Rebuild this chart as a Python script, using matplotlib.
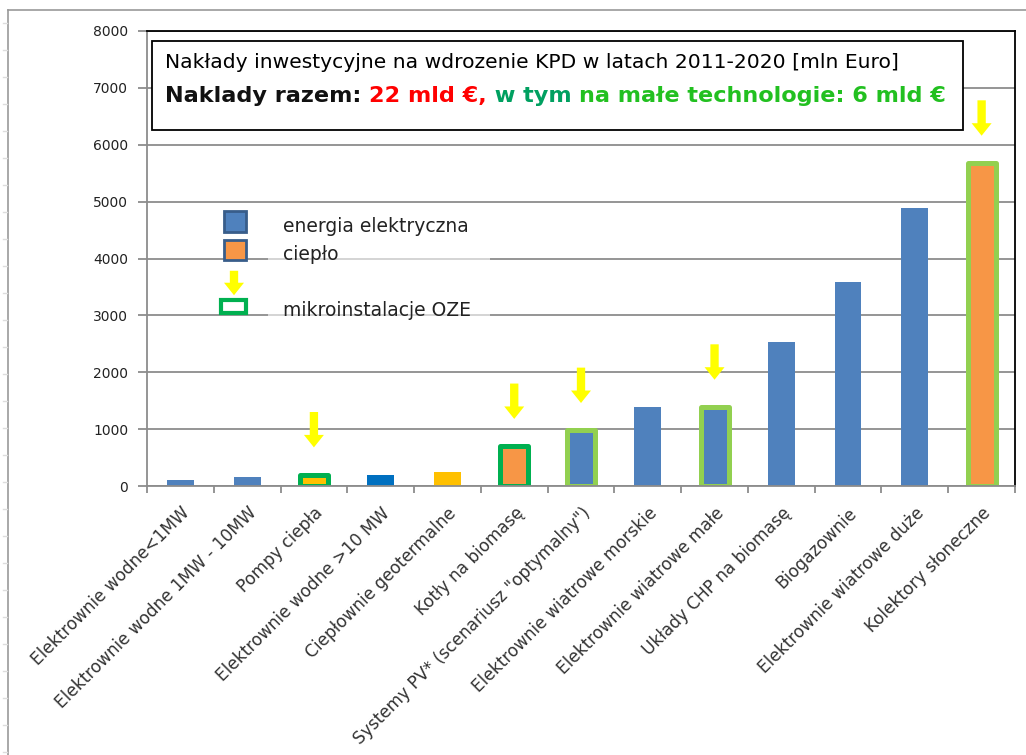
import matplotlib.pyplot as plt
from matplotlib.patches import Rectangle, FancyArrowPatch
from matplotlib.lines import Line2D

plt.rcParams['font.family'] = ['DejaVu Sans']

# Data
categories = [
    "Elektrownie wodne<1MW",
    "Elektrownie wodne 1MW - 10MW",
    "Pompy ciepła",
    "Elektrownie wodne >10 MW",
    "Ciepłownie geotermalne",
    "Kotły na biomasę",
    "Systemy PV* (scenariusz \"optymalny\")",
    "Elektrownie wiatrowe morskie",
    "Elektrownie wiatrowe małe",
    "Układy CHP na biomasę",
    "Biogazownie",
    "Elektrownie wiatrowe duże",
    "Kolektory słoneczne",
]
values = [110, 150, 200, 190, 245, 700, 980, 1385, 1390, 2525, 3580, 4890, 5680]
fill_colors = ["#4F81BD", "#4F81BD", "#FFC000", "#0070C0", "#FFC000", "#F79646",
               "#4F81BD", "#4F81BD", "#4F81BD", "#4F81BD", "#4F81BD", "#4F81BD", "#F79646"]
edge_colors = [None, None, "#00B050", None, None, "#00B050",
               "#92D050", None, "#92D050", None, None, None, "#92D050"]
arrow_bars = [2, 5, 6, 8, 12]
y_ticks = [0, 1000, 2000, 3000, 4000, 5000, 6000, 7000, 8000]

W, H = 1026, 755
fig = plt.figure(figsize=(W / 100, H / 100), dpi=100)
ax = fig.add_axes([147 / W, 1 - 486 / H, (1015 - 147) / W, (486 - 31) / H])


def fx(x):
    return x / W


def fy(y):
    return 1 - y / H


# gridlines
for t in y_ticks:
    ax.axhline(t, color="#8C8C8C", lw=1.3, zorder=0)

# bars
for i, (v, fc, ec) in enumerate(zip(values, fill_colors, edge_colors)):
    if ec is None:
        ax.bar(i, v, width=0.4, color=fc, zorder=2)
    else:
        ax.bar(i, v, width=0.42, color=fc, edgecolor=ec, linewidth=3.6,
               joinstyle="round", zorder=2)

# yellow arrows above micro-installation bars
for i in arrow_bars:
    ax.annotate("", xy=(i, values[i] + 430), xytext=(i, values[i] + 1150),
                arrowprops=dict(arrowstyle="simple,head_width=1.2,head_length=0.75,tail_width=0.5",
                                color="#FFFF00", mutation_scale=12, lw=0),
                zorder=3)

ax.set_xlim(-0.5, len(categories) - 0.5)
ax.set_ylim(0, 8000)
ax.set_yticks(y_ticks)
ax.set_yticklabels([str(t) for t in y_ticks], fontsize=10, color="#222222")
ax.set_xticks(range(len(categories)))
ax.set_xticklabels(categories, rotation=45, ha="right", rotation_mode="anchor",
                   fontsize=12.2, color="#333333")
ax.tick_params(axis="x", length=0, pad=13)
ax.set_xticks([k - 0.5 for k in range(len(categories) + 1)], minor=True)
ax.tick_params(axis="x", which="minor", length=5, color="#8C8C8C", width=1.3)
ax.tick_params(axis="y", length=6.5, color="#8C8C8C", width=1.3, pad=7)
for s in ["top", "right"]:
    ax.spines[s].set_color("black")
    ax.spines[s].set_linewidth(1.3)
ax.spines["left"].set_color("#8C8C8C")
ax.spines["left"].set_linewidth(1.3)
ax.spines["bottom"].set_color("#8C8C8C")
ax.spines["bottom"].set_linewidth(1.3)

# title box
fig.patches.append(Rectangle((fx(152), fy(130)), fx(963) - fx(152), fy(41) - fy(130),
                             transform=fig.transFigure, facecolor="white",
                             edgecolor="black", lw=1.3, zorder=5))
fig.text(fx(165), fy(62), "Nakłady inwestycyjne na wdrozenie KPD w latach 2011-2020 [mln Euro]",
         fontsize=14.6, va="center", ha="left", zorder=6)
parts = [("Naklady razem: ", "#111111"), ("22 mld €,", "#FF0000"), (" w tym ", "#00A060"),
         ("na małe technologie: 6 mld €", "#22C020")]
x0 = fx(165)
renderer = fig.canvas.get_renderer()
for txt, col in parts:
    t = fig.text(x0, fy(96), txt, fontsize=16.1, fontweight="bold", color=col,
                 va="center", ha="left", zorder=6)
    bb = t.get_window_extent(renderer=renderer)
    x0 += bb.width / W

# legend area (lightened gridlines)
fig.patches.append(Rectangle((fx(268), fy(320)), fx(490) - fx(268), fy(205) - fy(320),
                             transform=fig.transFigure, facecolor="white", alpha=0.6,
                             edgecolor="none", zorder=4))
fig.patches.append(Rectangle((fx(224), fy(232)), fx(22), fy(0) - fy(21),
                             transform=fig.transFigure, facecolor="#4F81BD",
                             edgecolor="#385D8A", lw=2, zorder=6))
fig.patches.append(Rectangle((fx(224), fy(260)), fx(22), fy(0) - fy(20),
                             transform=fig.transFigure, facecolor="#F79646",
                             edgecolor="#385D8A", lw=2, zorder=6))
fig.patches.append(FancyArrowPatch((fx(234), fy(268)), (fx(234), fy(298)),
                                   transform=fig.transFigure,
                                   arrowstyle="simple,head_width=1.2,head_length=0.75,tail_width=0.5",
                                   color="#FFFF00", mutation_scale=12, lw=0, zorder=6))
fig.patches.append(Rectangle((fx(221), fy(313)), fx(25), fy(0) - fy(13),
                             transform=fig.transFigure, facecolor="white",
                             edgecolor="#00B050", lw=3, zorder=6))
for label, yy in [("energia elektryczna", 227), ("ciepło", 255), ("mikroinstalacje OZE", 311)]:
    fig.text(fx(283), fy(yy), label, fontsize=13.5, va="center", ha="left",
             color="#222222", zorder=7)

# outer frame lines with faint ruler ticks
fig.add_artist(Line2D([fx(8), fx(8)], [0, fy(10)], transform=fig.transFigure,
                      color="#999999", lw=1.2))
fig.add_artist(Line2D([fx(8), 1], [fy(10), fy(10)], transform=fig.transFigure,
                      color="#999999", lw=1.2))
for yy in range(23, 755, 27):
    fig.add_artist(Line2D([fx(3), fx(7)], [fy(yy), fy(yy)], transform=fig.transFigure,
                          color="#DDDDDD", lw=1))

fig.savefig("out.png", dpi=100, facecolor="white")
